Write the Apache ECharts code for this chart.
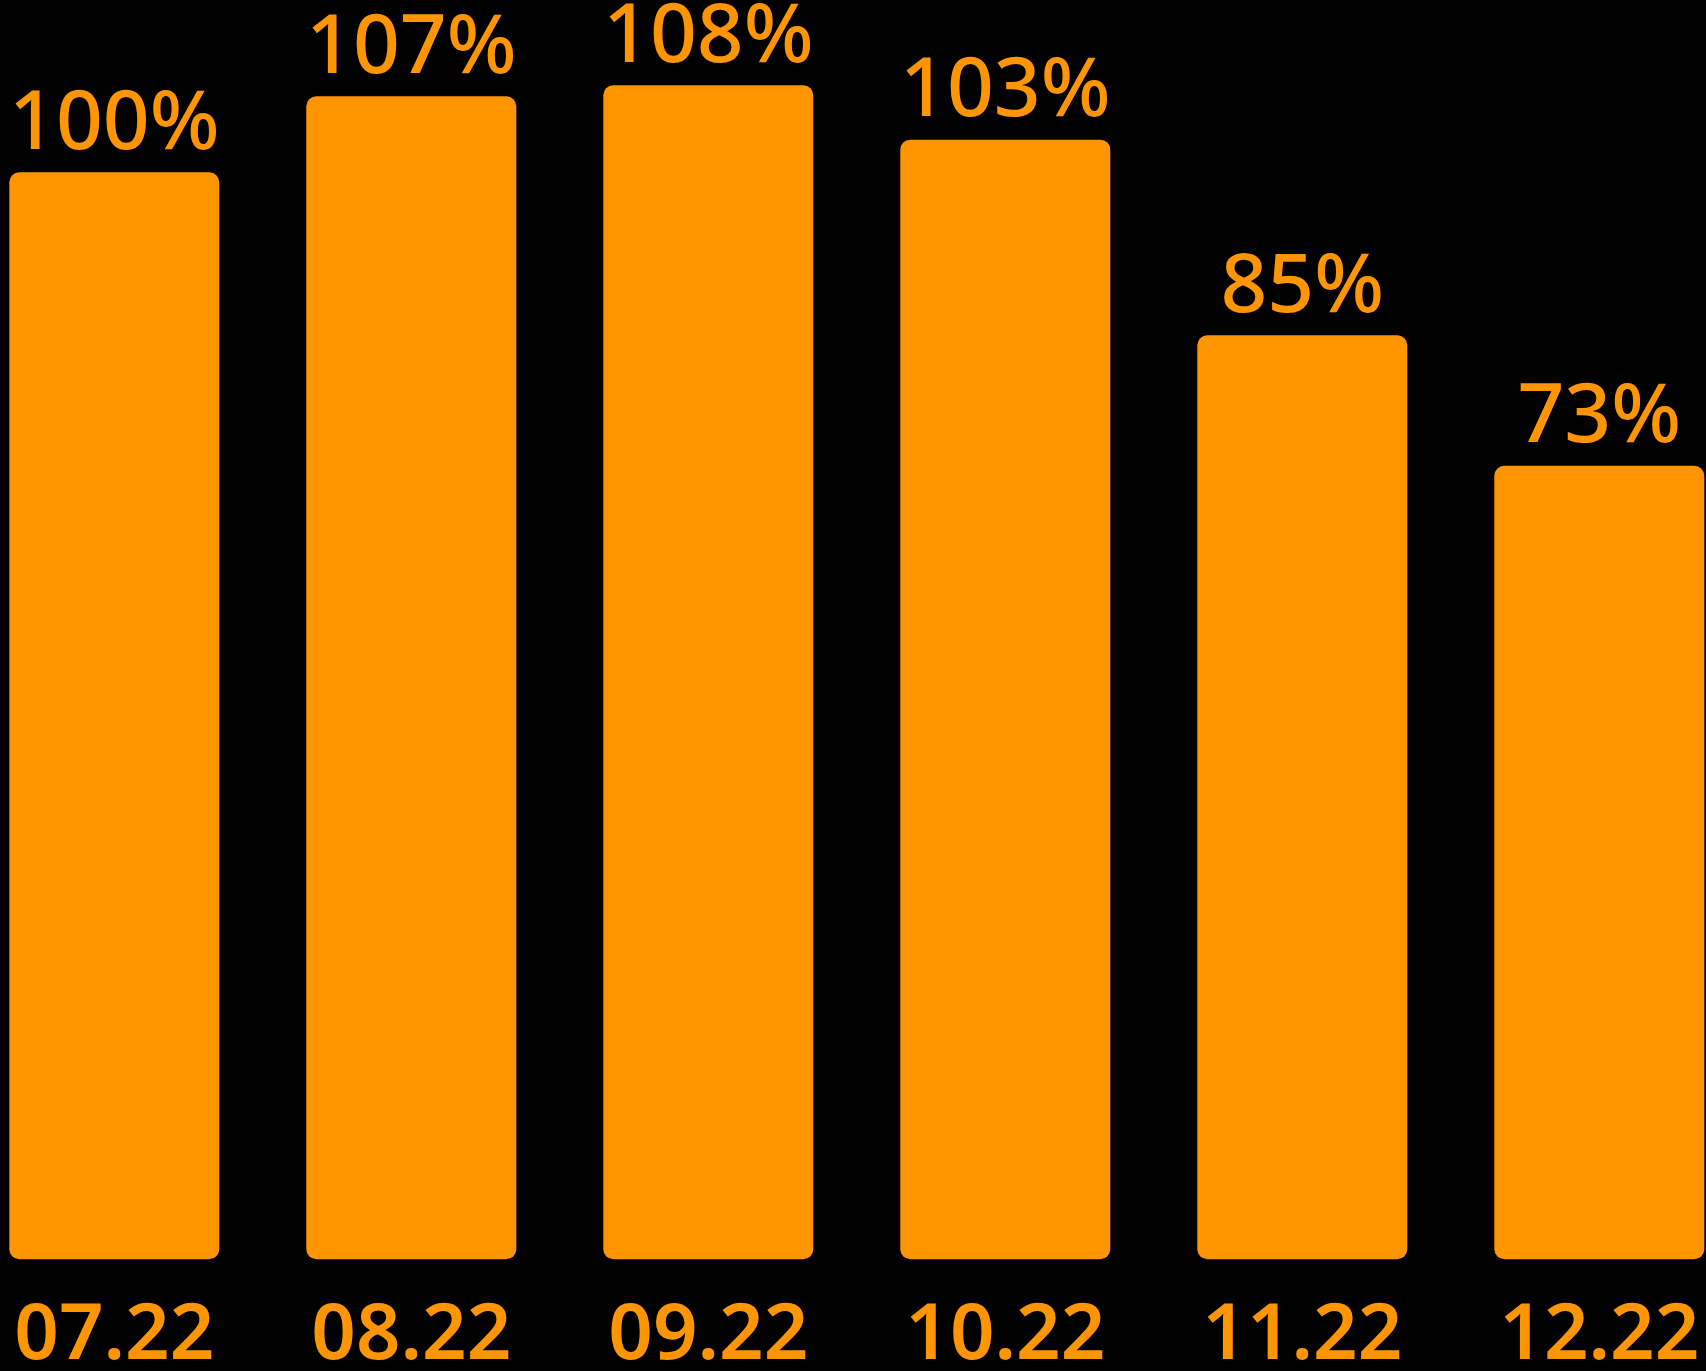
<!DOCTYPE html>
<html>
<head>
<meta charset="utf-8">
<script src="https://cdn.jsdelivr.net/npm/echarts@6/dist/echarts.min.js"></script>
<style>
html,body{margin:0;padding:0;background:#000;}
#chart{width:1706px;height:1371px;}
</style>
</head>
<body>
<div id="chart"></div>
<script>
const categories = ['07.22', '08.22', '09.22', '10.22', '11.22', '12.22'];
const values = [100, 107, 108, 103, 85, 73];

const chart = echarts.init(document.getElementById('chart'), null, {renderer: 'canvas'});
chart.setOption({
  backgroundColor: '#000000',
  animation: false,
  grid: {left: -34.2, right: -41.8, top: 63.6, bottom: 111.7, containLabel: false, outerBoundsMode: 'none'},
  xAxis: {
    type: 'category',
    data: categories,
    axisLine: {show: false},
    axisTick: {show: false},
    axisLabel: {
      color: '#FF9500',
      fontFamily: 'Noto Sans',
      fontSize: 78,
      fontWeight: 600,
      margin: 38
    }
  },
  yAxis: {
    type: 'value',
    min: 0,
    max: 110,
    show: false,
    splitLine: {show: false}
  },
  series: [{
    type: 'bar',
    data: values,
    barWidth: 210,
    itemStyle: {color: '#FF9500', borderRadius: 10},
    label: {
      show: true,
      position: 'top',
      distance: 6,
      color: '#FF9500',
      fontFamily: 'Noto Sans',
      fontSize: 82,
      fontWeight: 500,
      formatter: '{c}%'
    }
  }]
});
</script>
</body>
</html>
